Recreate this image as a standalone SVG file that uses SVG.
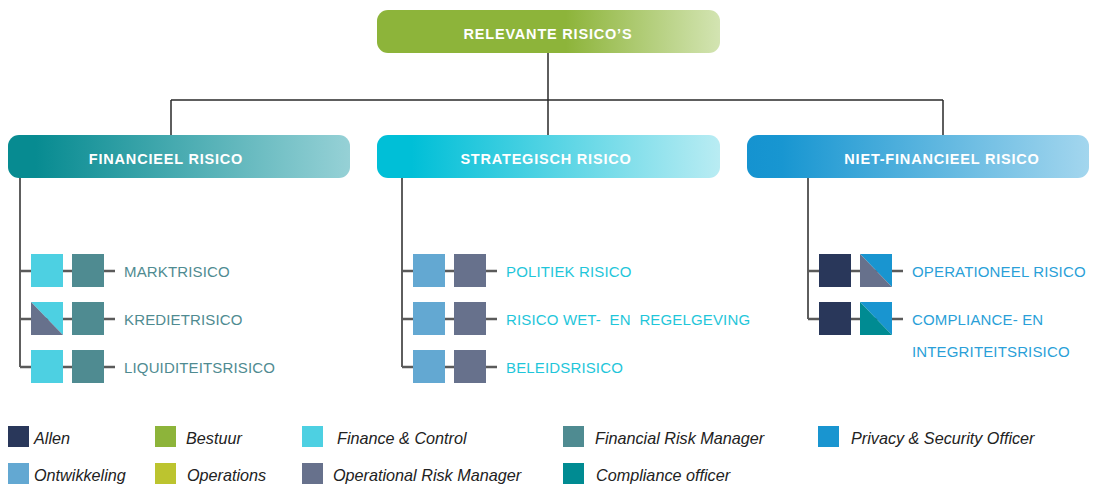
<svg xmlns="http://www.w3.org/2000/svg" width="1099" height="484" viewBox="0 0 1099 484">
  <style>
    .hdr { font-family: "Liberation Sans", Arial, sans-serif; font-weight: bold; font-size: 14.5px; fill: #ffffff; letter-spacing: 0.8px; text-anchor: middle; }
    .item { font-family: "Liberation Sans", Arial, sans-serif; font-size: 15px; letter-spacing: 0.15px; }
    .fin { fill: #4f8b91; }
    .str { fill: #1fc6da; }
    .nf { fill: #2a9fd8; }
    .leg { font-family: "Liberation Sans", Arial, sans-serif; font-style: italic; font-size: 16.2px; fill: #222222; }
    .tree { stroke: #2a2a2a; stroke-width: 1.5; fill: none; }
    .stub { stroke: #5a5a5a; stroke-width: 2.5; fill: none; }
    .allen { fill: #29375a; }
    .bestuur { fill: #8db43a; }
    .fc { fill: #4dd0e2; }
    .frm { fill: #4f8b91; }
    .pso { fill: #1995d0; }
    .ontw { fill: #63a8d2; }
    .ops { fill: #bcc42f; }
    .orm { fill: #67718c; }
    .co { fill: #008b92; }
  </style>
  <defs>
    <linearGradient id="gTop" x1="0" y1="0" x2="1" y2="0">
      <stop offset="0" stop-color="#8db43a"/>
      <stop offset="0.55" stop-color="#8db43a"/>
      <stop offset="1" stop-color="#d3e4b2"/>
    </linearGradient>
    <linearGradient id="gFin" x1="0" y1="0" x2="1" y2="0">
      <stop offset="0" stop-color="#078b91"/>
      <stop offset="0.08" stop-color="#078b91"/>
      <stop offset="1" stop-color="#96d1d6"/>
    </linearGradient>
    <linearGradient id="gStr" x1="0" y1="0" x2="1" y2="0">
      <stop offset="0" stop-color="#00bfd7"/>
      <stop offset="0.1" stop-color="#00bfd7"/>
      <stop offset="1" stop-color="#b9ecf3"/>
    </linearGradient>
    <linearGradient id="gNf" x1="0" y1="0" x2="1" y2="0">
      <stop offset="0" stop-color="#1593d0"/>
      <stop offset="0.1" stop-color="#1896d1"/>
      <stop offset="1" stop-color="#a3d6ee"/>
    </linearGradient>
  </defs>

  <!-- connectors -->
  <g id="connectors">
    <path class="tree" d="M548 53 V100 M171 100 H943 M171 100 V135 M548 100 V135 M943 100 V135"/>
    <path class="tree" d="M20 178 V367 M402 178 V367 M808 178 V319"/>
    <path class="stub" d="M20 271 H115 M20 319 H115 M20 367 H115"/>
    <path class="stub" d="M402 271 H497 M402 319 H497 M402 367 H497"/>
    <path class="stub" d="M808 271 H903 M808 319 H903"/>
  </g>

  <!-- root -->
  <g id="root">
    <rect x="377" y="10" width="343" height="43" rx="11" fill="url(#gTop)"/>
    <text class="hdr" x="548" y="39">RELEVANTE RISICO’S</text>
  </g>

  <!-- category headers -->
  <g id="financieel">
    <rect x="8" y="135" width="342" height="43" rx="11" fill="url(#gFin)"/>
    <text class="hdr" x="166" y="164">FINANCIEEL RISICO</text>
  </g>
  <g id="strategisch">
    <rect x="377" y="135" width="343" height="43" rx="11" fill="url(#gStr)"/>
    <text class="hdr" x="546" y="164">STRATEGISCH RISICO</text>
  </g>
  <g id="niet-financieel">
    <rect x="747" y="135" width="342" height="43" rx="11" fill="url(#gNf)"/>
    <text class="hdr" x="942" y="164">NIET-FINANCIEEL RISICO</text>
  </g>

  <!-- financial risks -->
  <g id="marktrisico">
    <rect class="fc" x="31" y="254" width="32" height="33"/>
    <rect class="frm" x="72" y="254" width="32" height="33"/>
    <text class="item fin" x="124" y="277">MARKTRISICO</text>
  </g>
  <g id="kredietrisico">
    <polygon class="fc" points="31,302 63,302 63,335"/>
    <polygon class="orm" points="31,302 63,335 31,335"/>
    <rect class="frm" x="72" y="302" width="32" height="33"/>
    <text class="item fin" x="124" y="325">KREDIETRISICO</text>
  </g>
  <g id="liquiditeitsrisico">
    <rect class="fc" x="31" y="350" width="32" height="33"/>
    <rect class="frm" x="72" y="350" width="32" height="33"/>
    <text class="item fin" x="124" y="373">LIQUIDITEITSRISICO</text>
  </g>

  <!-- strategic risks -->
  <g id="politiek-risico">
    <rect class="ontw" x="413" y="254" width="32" height="33"/>
    <rect class="orm" x="454" y="254" width="32" height="33"/>
    <text class="item str" x="506" y="277">POLITIEK RISICO</text>
  </g>
  <g id="risico-wet-regelgeving">
    <rect class="ontw" x="413" y="302" width="32" height="33"/>
    <rect class="orm" x="454" y="302" width="32" height="33"/>
    <text class="item str" x="506" y="325" xml:space="preserve">RISICO WET-  EN  REGELGEVING</text>
  </g>
  <g id="beleidsrisico">
    <rect class="ontw" x="413" y="350" width="32" height="33"/>
    <rect class="orm" x="454" y="350" width="32" height="33"/>
    <text class="item str" x="506" y="373">BELEIDSRISICO</text>
  </g>

  <!-- non-financial risks -->
  <g id="operationeel-risico">
    <rect class="allen" x="819" y="254" width="32" height="33"/>
    <polygon class="pso" points="860,254 892,254 892,287"/>
    <polygon class="orm" points="860,254 892,287 860,287"/>
    <text class="item nf" x="912" y="277">OPERATIONEEL RISICO</text>
  </g>
  <g id="compliance-integriteitsrisico">
    <rect class="allen" x="819" y="302" width="32" height="33"/>
    <polygon class="pso" points="860,302 892,302 892,335"/>
    <polygon class="co" points="860,302 892,335 860,335"/>
    <text class="item nf" x="912" y="325">COMPLIANCE- EN</text>
    <text class="item nf" x="912" y="357">INTEGRITEITSRISICO</text>
  </g>

  <!-- legend -->
  <g id="legend">
    <rect class="allen" x="8" y="426" width="21" height="21"/>
    <text class="leg" x="34" y="444">Allen</text>
    <rect class="bestuur" x="155" y="426" width="21" height="21"/>
    <text class="leg" x="186" y="444">Bestuur</text>
    <rect class="fc" x="302" y="426" width="21" height="21"/>
    <text class="leg" x="337" y="444">Finance &amp; Control</text>
    <rect class="frm" x="563" y="426" width="21" height="21"/>
    <text class="leg" x="595" y="444">Financial Risk Manager</text>
    <rect class="pso" x="818" y="426" width="21" height="21"/>
    <text class="leg" x="851" y="444">Privacy &amp; Security Officer</text>

    <rect class="ontw" x="8" y="463" width="21" height="21"/>
    <text class="leg" x="34" y="481">Ontwikkeling</text>
    <rect class="ops" x="155" y="463" width="21" height="21"/>
    <text class="leg" x="187" y="481">Operations</text>
    <rect class="orm" x="302" y="463" width="21" height="21"/>
    <text class="leg" x="333" y="481">Operational Risk Manager</text>
    <rect class="co" x="563" y="463" width="21" height="21"/>
    <text class="leg" x="596" y="481">Compliance officer</text>
  </g>
</svg>
